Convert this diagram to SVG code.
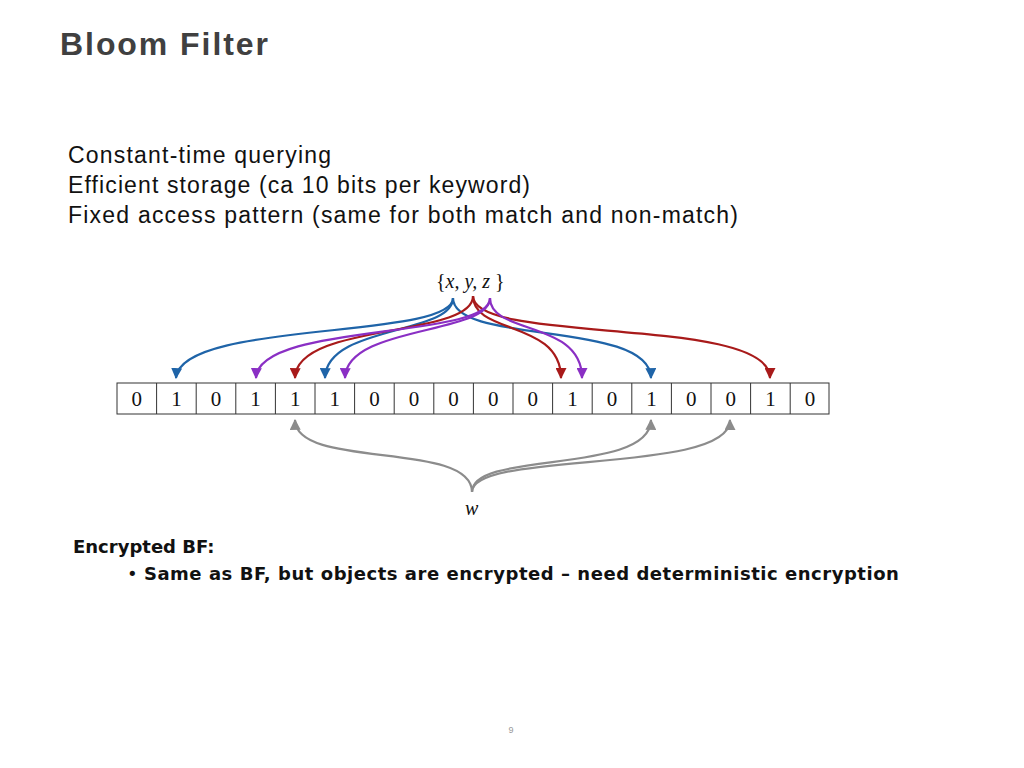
<svg xmlns="http://www.w3.org/2000/svg" width="1024" height="768" viewBox="0 0 1024 768">
<style>
.t{font-family:"Liberation Sans",Arial,sans-serif;font-size:23px;fill:#111}
.c{font-family:"Liberation Serif",serif;font-size:21px;fill:#111;text-anchor:middle}
.m{font-family:"Liberation Serif",serif;font-style:italic;font-size:20px;fill:#111}
.b{font-family:"DejaVu Sans",sans-serif;font-weight:bold;font-size:18px;fill:#111}
.bl{fill:none;stroke:#1f64a8;stroke-width:2.2}
.rd{fill:none;stroke:#a81a1a;stroke-width:2.2}
.pu{fill:none;stroke:#8a2fc4;stroke-width:2.2}
.gr{fill:none;stroke:#8c8c8c;stroke-width:2.2}
</style>
<defs>
<marker id="ab" viewBox="0 0 10 10" refX="9" refY="5" markerWidth="5" markerHeight="5" orient="auto"><path d="M0,0L10,5L0,10z" fill="#1f64a8"/></marker>
<marker id="ar" viewBox="0 0 10 10" refX="9" refY="5" markerWidth="5" markerHeight="5" orient="auto"><path d="M0,0L10,5L0,10z" fill="#a81a1a"/></marker>
<marker id="ap" viewBox="0 0 10 10" refX="9" refY="5" markerWidth="5" markerHeight="5" orient="auto"><path d="M0,0L10,5L0,10z" fill="#8a2fc4"/></marker>
<marker id="ag" viewBox="0 0 10 10" refX="9" refY="5" markerWidth="5" markerHeight="5" orient="auto"><path d="M0,0L10,5L0,10z" fill="#8c8c8c"/></marker>
</defs>
<rect width="1024" height="768" fill="#fff"/>
<text x="60" y="55" textLength="208" style="font-family:'Liberation Sans',Arial,sans-serif;font-weight:bold;font-size:32px;fill:#404040">Bloom Filter</text>
<text class="t" x="68" y="163" textLength="263">Constant-time querying</text>
<text class="t" x="68" y="193" textLength="462">Efficient storage (ca 10 bits per keyword)</text>
<text class="t" x="68" y="223" textLength="670">Fixed access pattern (same for both match and non-match)</text>
<g id="set"><text class="m" x="436" y="288"><tspan font-style="normal">{</tspan>x, y, z <tspan font-style="normal">}</tspan></text></g>
<g id="array" stroke="#333" stroke-width="1" fill="#fff">
<rect x="117" y="383" width="712" height="31"/>
<path d="M156.6,383v31M196.2,383v31M235.8,383v31M275.4,383v31M315,383v31M354.6,383v31M394.2,383v31M433.8,383v31M473.4,383v31M513,383v31M552.6,383v31M592.2,383v31M631.8,383v31M671.4,383v31M711,383v31M750.6,383v31M790.2,383v31"/>
</g>
<g id="bits">
<text class="c" x="136.8" y="406">0</text><text class="c" x="176.4" y="406">1</text><text class="c" x="216" y="406">0</text><text class="c" x="255.6" y="406">1</text><text class="c" x="295.2" y="406">1</text><text class="c" x="334.8" y="406">1</text><text class="c" x="374.4" y="406">0</text><text class="c" x="414" y="406">0</text><text class="c" x="453.6" y="406">0</text><text class="c" x="493.2" y="406">0</text><text class="c" x="532.8" y="406">0</text><text class="c" x="572.4" y="406">1</text><text class="c" x="612" y="406">0</text><text class="c" x="651.6" y="406">1</text><text class="c" x="691.2" y="406">0</text><text class="c" x="730.8" y="406">0</text><text class="c" x="770.4" y="406">1</text><text class="c" x="810" y="406">0</text>
</g>
<g id="connectors">
<path class="bl" marker-end="url(#ab)" d="M453,298C453,340 180,320 176,378"/>
<path class="bl" marker-end="url(#ab)" d="M453,298C453,335 326,325 325,378"/>
<path class="bl" marker-end="url(#ab)" d="M453,298C453,345 650,320 651,378"/>
<path class="rd" marker-end="url(#ar)" d="M473,296C473,338 296,322 295,378"/>
<path class="rd" marker-end="url(#ar)" d="M473,296C473,335 561,320 561,378"/>
<path class="rd" marker-end="url(#ar)" d="M473,296C473,345 770,315 770,378"/>
<path class="pu" marker-end="url(#ap)" d="M490,298C490,340 258,322 256,378"/>
<path class="pu" marker-end="url(#ap)" d="M490,298C490,335 346,325 345,378"/>
<path class="pu" marker-end="url(#ap)" d="M490,298C490,335 582,320 582,378"/>
<path class="gr" marker-end="url(#ag)" d="M472,492C472,440 296,470 295,420"/>
<path class="gr" marker-end="url(#ag)" d="M472,492C472,450 650,475 651,420"/>
<path class="gr" marker-end="url(#ag)" d="M472,492C472,450 730,475 730,420"/>
</g>
<g id="w"><text class="m" x="465" y="515">w</text></g>
<text class="b" x="73" y="553">Encrypted BF:</text>
<text class="b" x="127" y="580"><tspan font-weight="normal">•</tspan> <tspan textLength="755">Same as BF, but objects are encrypted – need deterministic encryption</tspan></text>
<text x="511" y="733" style="font-family:'Liberation Sans',Arial,sans-serif;font-size:9px;fill:#999;text-anchor:middle">9</text>
</svg>
